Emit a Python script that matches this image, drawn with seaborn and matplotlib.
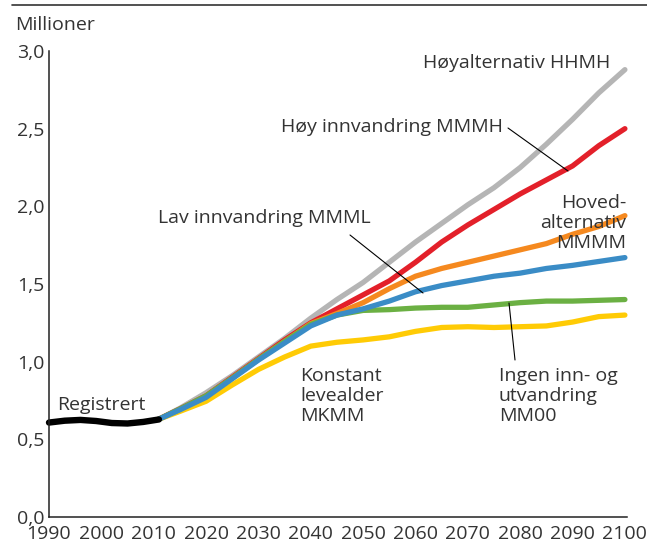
import numpy as np
import pandas as pd
import matplotlib
matplotlib.use("Agg")
import matplotlib.pyplot as plt
import seaborn as sns

sns.set_style("white")
plt.rcParams['font.family'] = ['Open Sans', 'DejaVu Sans']

# ---- data ----
reg_years = [1990, 1993, 1996, 1999, 2002, 2005, 2008, 2011]
reg_values = [0.608, 0.62, 0.625, 0.618, 0.605, 0.602, 0.612, 0.628]

proj_years = [2011, 2015, 2020, 2025, 2030, 2035, 2040, 2045, 2050, 2055,
              2060, 2065, 2070, 2075, 2080, 2085, 2090, 2095, 2100]
hoy_alt = [0.63, 0.70, 0.80, 0.91, 1.03, 1.15, 1.28, 1.40, 1.51, 1.64,
           1.77, 1.89, 2.01, 2.12, 2.25, 2.40, 2.56, 2.73, 2.88]
hoy_innv = [0.63, 0.695, 0.78, 0.90, 1.02, 1.14, 1.25, 1.34, 1.43, 1.52,
            1.64, 1.77, 1.88, 1.98, 2.08, 2.17, 2.26, 2.39, 2.50]
hoved = [0.63, 0.69, 0.775, 0.895, 1.015, 1.13, 1.245, 1.31, 1.38, 1.47,
         1.55, 1.60, 1.64, 1.68, 1.72, 1.76, 1.82, 1.87, 1.94]
lav_innv = [0.63, 0.69, 0.77, 0.89, 1.01, 1.12, 1.23, 1.30, 1.34, 1.39,
            1.45, 1.49, 1.52, 1.55, 1.57, 1.60, 1.62, 1.645, 1.67]
ingen = [0.63, 0.695, 0.78, 0.895, 1.015, 1.13, 1.24, 1.30, 1.33, 1.335,
         1.345, 1.35, 1.35, 1.365, 1.38, 1.39, 1.39, 1.395, 1.40]
konstant = [0.63, 0.68, 0.745, 0.85, 0.95, 1.03, 1.10, 1.125, 1.14, 1.16,
            1.195, 1.22, 1.225, 1.22, 1.225, 1.23, 1.255, 1.29, 1.30]

series_names = ["Høyalternativ HHMH", "Høy innvandring MMMH", "Hovedalternativ MMMM",
                "Konstant levealder MKMM", "Ingen inn- og utvandring MM00",
                "Lav innvandring MMML"]
series_values = [hoy_alt, hoy_innv, hoved, konstant, ingen, lav_innv]
colors = ["#b5b5b5", "#e3202a", "#f5891f", "#ffcb05", "#6bb043", "#3a8cc6"]

df = pd.concat([pd.DataFrame({"year": proj_years, "value": v, "series": n})
                for n, v in zip(series_names, series_values)], ignore_index=True)
df_reg = pd.DataFrame({"year": reg_years, "value": reg_values, "series": "Registrert"})

# ---- figure ----
fig = plt.figure(figsize=(6.47, 5.44), dpi=100)
W, H = 647, 544
ax = fig.add_axes([49 / W, (H - 517) / H, (627 - 49) / W, (517 - 51) / H])

sns.lineplot(data=df, x="year", y="value", hue="series", hue_order=series_names,
             palette=colors, linewidth=3.8, legend=False, ax=ax,
             solid_capstyle="round", solid_joinstyle="round")
sns.lineplot(data=df_reg, x="year", y="value", color="black", linewidth=4.6,
             legend=False, ax=ax, solid_capstyle="round", solid_joinstyle="round")
for ln in ax.lines:
    ln.set_clip_on(False)

ax.set_xlim(1990, 2100.4)
ax.set_ylim(0, 3.0)
ax.set_xlabel("")
ax.set_ylabel("")

txtc = "#333333"
ax.set_yticks([0, 0.5, 1.0, 1.5, 2.0, 2.5, 3.0])
ax.set_yticklabels(["0,0", "0,5", "1,0", "1,5", "2,0", "2,5", "3,0"])
ax.set_xticks(np.arange(1990, 2101, 10))
ax.set_xticks(np.arange(1995, 2100, 10), minor=True)
ax.tick_params(axis="y", direction="in", length=9.5, width=1, color="#333333",
               labelsize=14, labelcolor=txtc, pad=3)
ax.tick_params(axis="x", which="both", direction="in", length=8, width=1,
               color="#333333", labelsize=14, labelcolor=txtc, pad=6)
ax.tick_params(axis="x", which="minor", length=8)

for s in ["top", "right"]:
    ax.spines[s].set_visible(False)
for s in ["left", "bottom"]:
    ax.spines[s].set_color("#222222")
    ax.spines[s].set_linewidth(1.1)

# top rule
fig.add_artist(plt.Line2D([12 / W, 1.0], [(H - 5) / H, (H - 5) / H],
                          color="#333333", linewidth=1.2))
fig.text(15 / W, (H - 25) / H, "Millioner", fontsize=14, color=txtc,
         va="center", ha="left")

def px(x, y):
    return (x / W, (H - y) / H)

fs = 14
kw = dict(fontsize=fs, color=txtc, transform=fig.transFigure)
fig.text(*px(610, 63), "Høyalternativ HHMH", ha="right", va="center", **kw)
fig.text(*px(503, 127), "Høy innvandring MMMH", ha="right", va="center", **kw)
fig.text(*px(626, 223), "Hoved-\nalternativ\nMMMM", ha="right", va="center",
         linespacing=1.12, **kw)
fig.text(*px(158, 218), "Lav innvandring MMML", ha="left", va="center", **kw)
fig.text(*px(57, 405), "Registrert", ha="left", va="center", **kw)
fig.text(*px(300, 396), "Konstant\nlevealder\nMKMM", ha="left", va="center",
         linespacing=1.12, **kw)
fig.text(*px(499, 396), "Ingen inn- og\nutvandring\nMM00", ha="left", va="center",
         linespacing=1.12, **kw)

# leader lines
for (x0, y0, x1, y1) in [(508, 128, 568, 171), (350, 235, 423, 293),
                         (515, 360, 509, 303)]:
    fig.add_artist(plt.Line2D([x0 / W, x1 / W], [(H - y0) / H, (H - y1) / H],
                              color="black", linewidth=0.8))

fig.savefig("out.png", dpi=100)
